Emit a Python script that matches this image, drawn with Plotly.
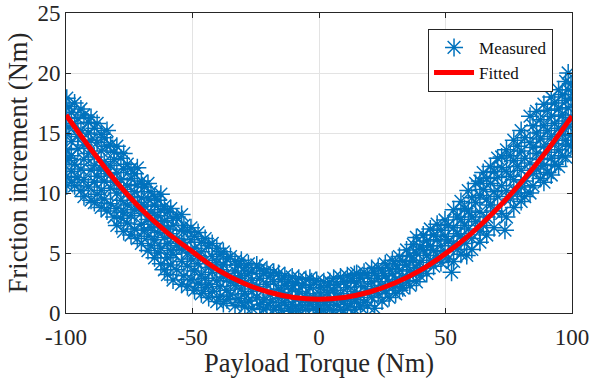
import plotly.graph_objects as go

col_torque = [
    -99.7, -98.8, -97.9, -96.6, -95.3, -94.1, -92.9, -91.2, -90.1, -88.8, -87.7, -86.1,
    -84.9, -83.8, -82.4, -81.0, -79.9, -78.3, -77.2, -75.8, -74.3, -72.9, -71.8, -70.2,
    -69.1, -67.6, -66.4, -65.0, -63.7, -62.5, -61.1, -59.9, -58.6, -57.7, -56.2, -54.3,
    -53.4, -52.0, -50.6, -49.2, -47.8, -46.5, -45.0, -43.6, -42.2, -40.4, -39.1, -37.8,
    -36.4, -35.0, -33.2, -32.0, -30.7, -29.3, -27.9, -26.5, -24.6, -23.4, -22.0, -20.6,
    -19.2, -17.9, -16.0, -14.8, -13.5, -12.1, -10.6, -9.3, -8.0, -6.6, -5.2, -3.6, -2.3,
    -0.9, 0.6, 1.9, 3.4, 4.3, 5.8, 7.1, 8.5, 9.8, 11.2, 12.6, 14.0, 14.9, 16.4, 17.8,
    19.2, 20.8, 22.0, 23.4, 24.9, 26.2, 27.7, 29.0, 30.3, 31.8, 33.1, 34.6, 35.9, 37.3,
    38.5, 39.9, 41.2, 42.6, 44.0, 45.3, 46.7, 48.2, 49.8, 51.1, 52.4, 53.2, 54.6, 56.1,
    57.5, 58.4, 59.0, 60.4, 61.9, 63.6, 64.9, 66.3, 67.8, 69.2, 70.6, 72.2, 73.5, 74.1,
    75.6, 77.0, 78.4, 79.9, 81.3, 83.4, 84.6, 86.0, 87.5, 88.9, 90.3, 91.8, 93.2, 94.7,
    96.1, 97.5, 98.5, 99.6,
]
col_friction = [
    [17.9, 16.3, 14.9, 13.6, 12.7, 11.4, 10.6],
    [17.2, 15.5, 12.9],
    [16.7, 14.3, 13.1, 11.8, 10.9],
    [17.5, 15.8, 12.4, 10.6],
    [16.2, 14.7, 13.7, 11.3],
    [17.0, 15.2, 12.0, 10.2],
    [16.5, 14.0, 12.8, 11.1, 9.7],
    [15.9, 15.0, 13.3, 10.5],
    [16.3, 14.4, 11.9, 9.4],
    [15.4, 13.0, 12.3, 10.9, 9.2],
    [15.8, 14.2, 11.4, 9.9],
    [14.9, 13.5, 12.0, 10.2, 8.8],
    [14.6, 12.6, 11.0, 9.5],
    [15.2, 13.9, 11.6, 8.5],
    [14.0, 12.3, 10.4, 9.1],
    [13.4, 12.8, 10.9, 8.0],
    [13.9, 11.7, 10.0, 8.7, 7.3],
    [12.9, 11.1, 9.4, 7.9],
    [13.3, 12.0, 10.3, 8.4, 6.8],
    [12.4, 10.6, 9.0, 7.5],
    [12.0, 11.2, 9.7, 8.1, 6.5],
    [11.6, 10.1, 8.6, 7.0],
    [12.1, 10.7, 9.2, 6.2],
    [11.0, 9.6, 8.3, 7.4, 5.8],
    [10.5, 8.9, 6.9],
    [10.8, 9.5, 7.8, 6.4, 5.2],
    [10.1, 8.4, 7.1, 5.6],
    [9.7, 9.0, 7.6, 6.1, 4.6],
    [9.4, 8.1, 6.7, 5.0],
    [9.9, 8.6, 7.2, 5.4, 4.1],
    [8.9, 7.7, 6.3, 3.6],
    [8.4, 7.0, 5.8, 4.6, 3.2],
    [8.7, 6.6, 5.2, 4.0],
    [7.9, 7.3, 4.9, 2.75],
    [8.0, 6.2, 5.6, 3.6],
    [8.2, 6.9, 5.3, 4.3, 2.4],
    [7.3, 5.9, 3.1],
    [6.8, 5.0, 3.9, 2.2],
    [7.1, 6.1, 4.5, 2.8],
    [6.4, 5.4, 3.5, 1.9],
    [6.7, 4.8, 4.1, 2.5],
    [5.9, 5.1, 3.2, 1.6],
    [6.2, 4.4, 2.9, 2.1],
    [5.6, 3.8, 2.4, 1.3],
    [5.8, 4.7, 3.4, 1.8],
    [5.4, 4.2, 2.7, 0.95],
    [4.9, 3.6, 2.2, 1.4],
    [5.1, 4.0, 3.0, 0.8],
    [4.5, 3.3, 1.9, 1.1],
    [4.7, 2.6, 1.5],
    [4.3, 3.5, 2.3, 0.6],
    [4.0, 2.9, 1.2],
    [4.4, 3.1, 2.0, 0.9],
    [3.8, 2.5, 1.6, 0.5],
    [4.1, 3.3, 1.0],
    [3.5, 2.7, 1.8, 0.4],
    [4.0, 2.2, 1.3],
    [3.7, 2.9, 0.7],
    [3.3, 1.9, 1.1, 0.3],
    [3.6, 2.4, 0.5],
    [3.1, 1.5, 0.9],
    [3.4, 2.6, 0.3],
    [3.3, 2.0, 1.2, 0.6],
    [2.8, 1.7, 0.2],
    [3.1, 2.3, 0.9],
    [2.6, 1.4, 0.4],
    [3.0, 2.0, 0.7, 0.15],
    [2.5, 1.2, 0.5],
    [2.9, 1.8, 0.2],
    [2.3, 1.0, 0.6],
    [2.8, 1.6, 0.3],
    [2.9, 2.1, 0.9],
    [2.4, 1.3, 0.4],
    [2.7, 0.7, 0.2],
    [2.1, 1.5, 0.5],
    [2.6, 0.9, 0.2],
    [2.3, 1.7, 0.6],
    [2.6, 1.1, 0.3],
    [2.9, 1.9, 0.2],
    [2.4, 1.3, 0.7],
    [3.0, 1.6, 0.3],
    [2.6, 1.0, 0.2],
    [3.1, 2.1, 0.5],
    [2.7, 1.4, 0.8],
    [3.2, 1.8, 0.3],
    [3.3, 2.5, 1.1],
    [2.9, 1.5, 0.5],
    [3.4, 2.2, 0.9],
    [3.1, 1.8, 0.6],
    [3.7, 2.6, 1.3],
    [3.3, 2.0, 0.4],
    [3.8, 2.9, 1.6],
    [3.5, 2.3, 1.0],
    [4.1, 3.1, 1.9],
    [3.7, 2.6, 1.3],
    [4.4, 3.3, 2.2],
    [4.0, 2.8, 1.6],
    [4.7, 3.6, 2.5, 1.9],
    [4.3, 3.0, 2.1],
    [5.25, 4.0, 2.7],
    [4.8, 3.5, 2.3],
    [5.7, 4.4, 3.2],
    [6.3, 5.0, 3.8, 2.6],
    [5.5, 4.2, 3.1],
    [6.5, 5.3, 3.7],
    [6.0, 4.8, 3.3],
    [7.0, 5.6, 4.4],
    [6.5, 5.2, 3.9],
    [7.4, 6.1, 4.8],
    [6.9, 5.6, 4.2],
    [7.75, 6.4, 5.1],
    [7.3, 6.0, 4.5],
    [3.4],
    [8.6, 7.1, 5.8, 4.3],
    [8.0, 6.6, 5.3],
    [9.3, 7.8, 6.4, 4.9],
    [8.7, 7.3, 5.8],
    [4.8],
    [10.2, 8.5, 7.0],
    [9.6, 8.0, 6.2, 5.3],
    [10.8, 9.2, 7.6],
    [11.0, 9.8, 8.4, 6.8, 5.9],
    [11.7, 10.3, 7.3],
    [11.2, 9.5, 8.0, 6.5],
    [12.2, 10.8, 9.0],
    [11.8, 10.1, 8.5, 7.1],
    [12.9, 11.3, 9.7],
    [13.0, 12.1, 10.6, 8.3],
    [6.9],
    [13.6, 11.8, 10.2, 8.0],
    [13.1, 11.4, 9.5],
    [14.4, 12.7, 11.1, 8.8],
    [13.9, 12.2, 10.0],
    [15.2, 13.5, 11.9, 10.5, 9.3],
    [14.6, 12.9, 11.0, 9.7],
    [16.4, 14.2, 12.5, 10.0],
    [15.6, 13.8, 11.6, 10.6],
    [16.8, 15.0, 13.3, 12.0],
    [16.1, 14.5, 12.8, 11.2],
    [17.4, 15.6, 13.9, 12.3, 10.9],
    [16.9, 15.2, 13.4, 11.7],
    [18.0, 16.4, 14.7, 12.9, 11.5],
    [17.5, 15.8, 14.1, 12.4],
    [18.6, 17.0, 15.4, 13.6, 12.2],
    [18.2, 16.5, 14.9, 13.1],
    [19.3, 17.7, 16.0, 14.4, 13.0],
    [20.0, 18.6, 17.1, 15.5, 14.0],
    [19.1, 17.9, 16.3, 14.8, 13.9],
]

# Fitted curve
fit_torque = [-100, -90, -80, -70, -60, -50, -40, -30, -20, -10, 0,
              10, 20, 30, 40, 50, 60, 70, 80, 90, 100]
fit_friction = [16.5, 13.6, 10.9, 8.6, 6.7, 5.1, 3.6, 2.5, 1.75, 1.3, 1.15,
                1.3, 1.75, 2.5, 3.55, 4.95, 6.6, 8.6, 10.9, 13.5, 16.4]

x_ticks = [-100, -50, 0, 50, 100]
x_tick_text = ["-100", "-50", "0", "50", "100"]
y_ticks = [0, 5, 10, 15, 20, 25]

meas_x, meas_y = [], []
for tx, ys in zip(col_torque, col_friction):
    for yv in ys:
        meas_x.append(tx)
        meas_y.append(yv)

FONT = "Liberation Serif, Times New Roman, serif"
BLUE = "#0072BD"

fig = go.Figure()
fig.add_trace(go.Scatter(
    x=meas_x, y=meas_y, mode="markers", name="Measured",
    marker=dict(symbol="asterisk-open", size=15, color=BLUE,
                line=dict(color=BLUE, width=1.5)),
))
fig.add_trace(go.Scatter(
    x=fit_torque, y=fit_friction, mode="lines", name="Fitted",
    line=dict(color="#ff0000", width=5, shape="spline"),
))

axis_common = dict(
    showline=True, linecolor="#262626", linewidth=1, mirror="ticks",
    ticks="inside", ticklen=5, tickcolor="#262626",
    showgrid=True, gridcolor="#e3e3e3", gridwidth=1,
    zeroline=False, automargin=False, ticklabeloverflow="allow",
    tickfont=dict(family=FONT, size=23, color="#262626"),
)

fig.update_layout(
    width=589, height=378,
    margin=dict(l=66, r=17, t=13, b=65),
    paper_bgcolor="white", plot_bgcolor="white",
    font=dict(family=FONT, color="#262626"),
    xaxis=dict(range=[-100, 100], tickvals=x_ticks, ticktext=x_tick_text,
               ticklabelstandoff=3,
               title=dict(text="Payload Torque (Nm)", font=dict(family=FONT, size=26.5),
                          standoff=2),
               **axis_common),
    yaxis=dict(range=[0, 25], tickvals=y_ticks,
               title=dict(text="Friction increment (Nm)", font=dict(family=FONT, size=26.5),
                          standoff=2),
               **axis_common),
    legend=dict(x=0.9625, y=0.947, xanchor="right", yanchor="top",
                bgcolor="white", bordercolor="#262626", borderwidth=1,
                font=dict(family=FONT, size=17, color="#111111"),
                tracegroupgap=0, itemwidth=40),
    showlegend=True,
)

# remove the page's default 8px body margin so the figure fills the window
fig.write_html("out.html",
               config={"displayModeBar": False},
               post_script="document.body.style.margin='0';document.body.style.overflow='hidden';")
